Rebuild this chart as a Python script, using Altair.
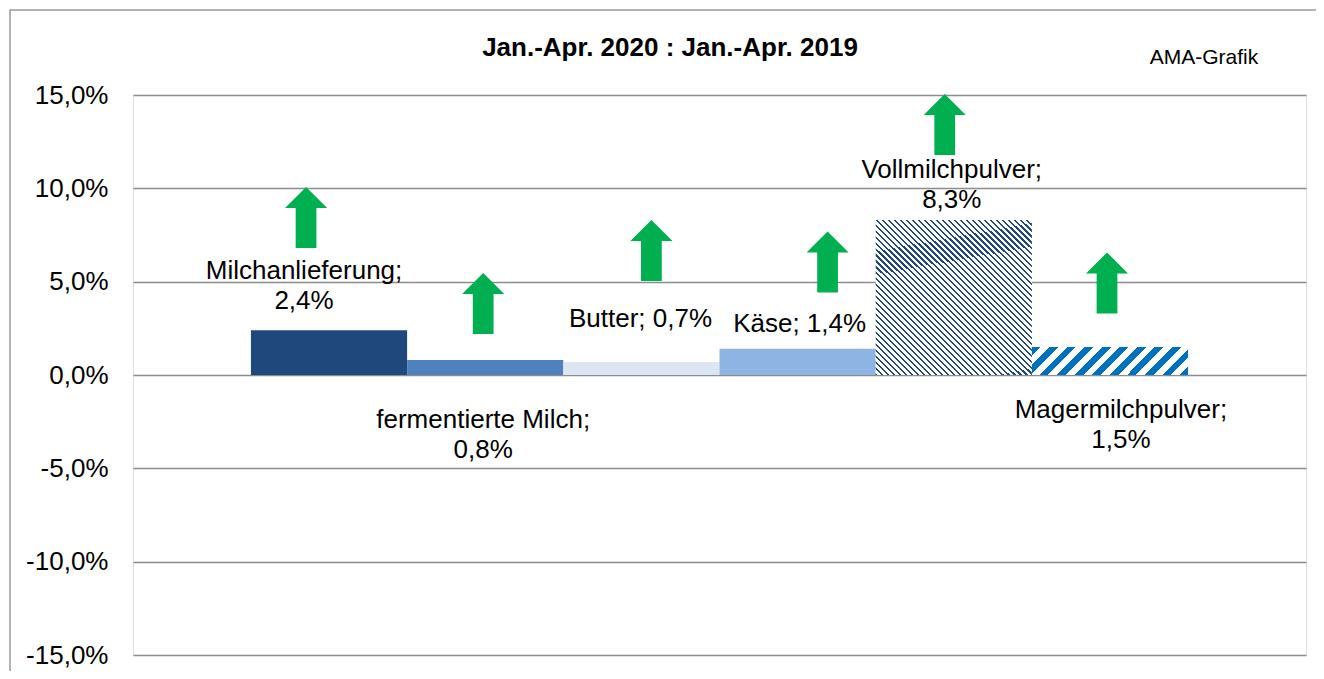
import altair as alt
import pandas as pd

# ---- data ----
categories = ["Milchanlieferung", "fermentierte Milch", "Butter", "Käse",
              "Vollmilchpulver", "Magermilchpulver"]
values = [2.4, 0.8, 0.7, 1.4, 8.3, 1.5]
value_labels = ["2,4%", "0,8%", "0,7%", "1,4%", "8,3%", "1,5%"]
label_sep = [";\n", ";\n", "; ", "; ", ";\n", ";\n"]
y_ticks = [-15, -10, -5, 0, 5, 10, 15]
title_text = "Jan.-Apr. 2020 : Jan.-Apr. 2019"
source_note = "AMA-Grafik"

# ---- annotation layout (data units / fraction of a band) ----
label_y = [5.14, -2.84, 2.57, 2.30, 10.55, -2.30]
label_dx = [-0.16, -0.013, -0.006, 0.013, -0.013, 0.07]
arrow_y = [8.44, 3.83, 6.67, 6.05, 13.42, 4.93]
arrow_dx = [-0.147, -0.013, 0.064, 0.192, -0.058, -0.019]

FONT = "Liberation Sans"
W, H = 1173, 560

df = pd.DataFrame({
    "cat": categories,
    "idx": list(range(len(categories))),
    "value": values,
    "label": [c + s + v for c, s, v in zip(categories, label_sep, value_labels)],
    "label_y": label_y,
    "arrow_y": arrow_y,
})
df["x0"] = df["idx"] - 0.5
df["x1"] = df["idx"] + 0.5
df["label_x"] = df["idx"] + pd.Series(label_dx)
df["arrow_x"] = df["idx"] + pd.Series(arrow_dx)

xscale = alt.Scale(domain=[-1.255, 6.255], nice=False, zero=False)
yscale = alt.Scale(domain=[-15, 15], nice=False, zero=False)
yaxis = alt.Axis(
    values=y_ticks, title=None, grid=True, gridColor="#8c8c8c", gridWidth=1.6,
    domain=False, ticks=False, labelFont=FONT, labelFontSize=26,
    labelColor="black", labelPadding=25,
    labelExpr="(datum.value < 0 ? '-' : '') + replace(format(abs(datum.value), '.1f'), '.', ',') + '%'",
)


def X(f):
    return alt.X(f, type="quantitative", scale=xscale, axis=None)


def Y(f):
    return alt.Y(f, type="quantitative", scale=yscale, axis=yaxis)


def stripes(n, frac, c_dark, c_light):
    stops = []
    for k in range(n):
        a, b, c = k / n, (k + frac) / n, (k + 1) / n
        stops += [
            {"offset": a, "color": c_dark}, {"offset": b, "color": c_dark},
            {"offset": b, "color": c_light}, {"offset": c, "color": c_light},
        ]
    return stops


base = alt.Chart(df)

solid = base.transform_filter(
    alt.FieldOneOfPredicate(field="cat", oneOf=categories[:4])
).mark_bar().encode(
    x=X("x0"), x2="x1", y=Y("value"), y2=alt.datum(0),
    color=alt.Color("cat:N", scale=alt.Scale(
        domain=categories[:4],
        range=["#1F497D", "#4F81BD", "#DCE6F2", "#8EB4E3"]), legend=None),
)

grad_voll = alt.LinearGradient(
    gradient="linear", x1=0, y1=1, x2=1, y2=0,
    stops=stripes(52, 0.36, "#1F497D", "#FFFFFF"))
voll = base.transform_filter(alt.datum.cat == categories[4]).mark_bar(
    color=grad_voll).encode(x=X("x0"), x2="x1", y=Y("value"), y2=alt.datum(0))

grad_mager = alt.LinearGradient(
    gradient="linear", x1=0, y1=0, x2=1.2, y2=0.215,
    stops=stripes(11, 0.5, "#0070C0", "#FFFFFF"))
mager = base.transform_filter(alt.datum.cat == categories[5]).mark_bar(
    color=grad_mager).encode(x=X("x0"), x2="x1", y=Y("value"), y2=alt.datum(0))

arrow_path = ("M0,-1 L0.69,-0.31 L0.34,-0.31 L0.34,1 L-0.34,1 "
              "L-0.34,-0.31 L-0.69,-0.31 Z")
arrows = base.mark_point(
    shape=arrow_path, size=3721, filled=True, fill="#00B050",
    strokeWidth=0, opacity=1,
).encode(x=X("arrow_x"), y=Y("arrow_y"))

labels = base.mark_text(
    font=FONT, fontSize=26, color="black", align="center",
    baseline="alphabetic", lineBreak="\n", lineHeight=30,
).encode(x=X("label_x"), y=Y("label_y"), text="label:N")

one = alt.Chart(pd.DataFrame({"note": [source_note], "title": [title_text]}))
frame = one.mark_rect(fillOpacity=0, stroke="#9a9a9a", strokeWidth=1.5).encode(
    x=alt.value(-123), x2=alt.value(W + 60), y=alt.value(-85), y2=alt.value(H + 60))
note = one.mark_text(font=FONT, fontSize=21, color="black", align="center",
                     baseline="alphabetic").encode(
    x=alt.value(1071), y=alt.value(-31), text="note:N")
title = one.mark_text(font=FONT, fontSize=26, fontWeight="bold", color="black",
                      align="center", baseline="alphabetic").encode(
    x=alt.value(537), y=alt.value(-39), text="title:N")

chart = alt.layer(solid, voll, mager, arrows, labels, frame, note, title).properties(
    width=W, height=H,
    autosize=alt.AutoSizeParams(type="none"),
    padding={"left": 125, "top": 87, "right": 10, "bottom": 16},
).configure_view(stroke="#8c8c8c", strokeWidth=1.6).configure(background="white")

chart.save("out.html", embed_options={"renderer": "svg", "actions": False})
